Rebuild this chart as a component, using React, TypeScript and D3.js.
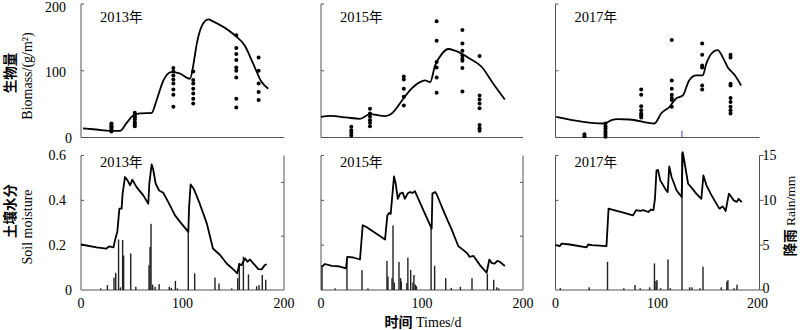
import React from 'react';
import * as d3 from 'd3';

type P = [number, number];

const yearLabels = ['2013年', '2015年', '2017年'];
const xTicks = [0, 100, 200];
const biomassTicks = [0, 100, 200];
const soilTicks = [0, 0.2, 0.4, 0.6];
const rainTicksRight = [0, 5, 10, 15];
const rainTicksInner = [10, 20];
const rainMax = [25, 25, 15];

// ---------- 2013 ----------
const biomassLine2013: P[] = [
  [2, 13.7], [15, 12], [28.6, 10], [38.4, 10], [45, 22], [51.5, 33], [58, 36], [69.6, 37], [74.5, 56],
  [81, 85], [89, 98], [97, 96], [107.4, 88], [110.6, 108], [114, 140], [119, 167], [125.4, 177],
  [130, 174], [150, 155], [161.6, 137], [169.8, 110], [178, 83], [184.5, 73],
];
const biomassDots2013: [number, number[]][] = [
  [30, [9, 11, 13, 15, 17, 19, 21]],
  [53, [17, 20, 23, 27, 30, 33, 37]],
  [91, [104, 99, 93, 87, 81, 72, 64, 46]],
  [110.6, [99, 86, 81, 73, 66, 58, 51]],
  [153, [153, 134, 125, 116, 105, 100, 90, 58, 45]],
  [175, [120, 100, 81, 68, 56]],
];
const soil2013: P[] = [
  [0, 0.203], [15.4, 0.19], [25, 0.185], [28, 0.195], [32, 0.19], [33.5, 0.222], [35.8, 0.26], [37.8, 0.363],
  [40, 0.363], [41, 0.43], [43.3, 0.504], [45.7, 0.49], [48.3, 0.467], [50.6, 0.492], [54.8, 0.459],
  [61.4, 0.422], [66.3, 0.385], [67.3, 0.474], [69.6, 0.56], [71, 0.54], [73.6, 0.474], [77, 0.444],
  [81, 0.434], [86, 0.392], [92.6, 0.333], [99, 0.296], [105.7, 0.259], [106.5, 0.37], [108, 0.471],
  [111, 0.452], [117, 0.385], [124, 0.296], [130, 0.185], [137, 0.156], [143.5, 0.118], [150, 0.092],
  [154, 0.074], [156, 0.116], [158, 0.11], [161.6, 0.141], [164, 0.126], [166.5, 0.136], [169.5, 0.12],
  [174.7, 0.093], [178, 0.092], [181, 0.111], [183, 0.115],
];
const rain2013: P[] = [
  [19.4, 0.3], [26, 0.9], [32.5, 2.3], [34.2, 3.2], [37, 9.4], [38.8, 0.5], [41, 9.3], [42, 6.4], [49, 6.8],
  [54, 0.6], [67, 4.6], [68, 8.0], [69, 12.3], [70.6, 1.0], [73, 0.6], [77, 1.1], [87, 0.6], [89, 0.4],
  [93, 1.7], [95, 0.3], [105.7, 11], [112, 3.1], [132, 2.3], [136, 1.2], [148.5, 0.3], [154.4, 2.2],
  [156, 5], [160, 6.2], [165, 2.9], [173, 0.7], [175.4, 0.9], [178.6, 2.8], [182, 1.9],
];

// ---------- 2015 ----------
const biomassLine2015: P[] = [
  [0, 31], [9, 32.4], [25, 30], [38.6, 28], [48.5, 35], [63.4, 32], [70, 36], [81.5, 58], [88, 70.6],
  [98, 83], [103, 85.5], [108, 83], [113, 108], [119.5, 125], [126, 132.6], [132.7, 130], [147.5, 118],
  [159, 106], [170.6, 80.6], [182, 57],
];
const biomassDots2015: [number, number[]][] = [
  [30, [16, 11, 7, 3]],
  [48.5, [43, 36, 31, 26, 22, 17]],
  [82, [91.4, 87, 73, 61, 48]],
  [114.5, [174, 145, 113, 105, 90, 67]],
  [140, [161, 141, 130, 123, 118, 115, 104, 69]],
  [157, [122, 63, 57, 51, 44, 18.6, 14, 10]],
];
const soil2015: P[] = [
  [1, 0.104], [4, 0.116], [10.6, 0.108], [17, 0.106], [24.7, 0.096], [26, 0.148], [32, 0.145],
  [38.6, 0.136], [41.3, 0.289], [45, 0.281], [63.4, 0.225], [65.7, 0.333], [67.6, 0.344], [69, 0.339],
  [72.3, 0.507], [74, 0.474], [76, 0.407], [78.3, 0.43], [81, 0.434], [83, 0.407], [85.8, 0.43],
  [88, 0.437], [90.7, 0.433], [93, 0.441], [96.4, 0.407], [101.3, 0.356], [109.6, 0.274], [110.3, 0.43],
  [113, 0.437], [114.5, 0.427], [121, 0.356], [126, 0.304], [129, 0.274], [136, 0.195], [141, 0.178],
  [145, 0.163], [147, 0.148], [151, 0.152], [157.4, 0.111], [164, 0.077], [166.7, 0.136], [169, 0.12],
  [172, 0.118], [174.5, 0.13], [177, 0.126], [182, 0.107],
];
const rain2015: P[] = [
  [1, 4.6], [14, 0.3], [25.7, 6], [40.6, 3.7], [46.5, 0.3], [65.3, 5.4], [66.3, 2.5], [70.3, 2.2],
  [71.3, 12], [72.6, 1.4], [77.2, 5.2], [78.8, 2.2], [79.5, 1.6], [85, 1.3], [86, 6.0], [88.8, 3.7],
  [91, 1.4], [92, 2.8], [93.5, 1], [94.5, 0.7], [109, 11.5], [112.5, 4.5], [123.5, 2.2], [129, 0.4],
  [138, 0.6], [149.5, 2.2], [164.7, 3], [171, 1.9], [174, 0.5], [176, 0.3],
];

// ---------- 2017 ----------
const biomassLine2017: P[] = [
  [0.7, 31], [46.4, 21], [50.5, 22.5], [55, 26], [61, 27.5], [72.5, 27], [97, 21], [103.6, 36],
  [111.8, 46], [118, 58], [124.8, 63], [131, 85.5], [138, 93], [144.4, 93], [147.7, 110], [154, 127.6],
  [159, 131], [164, 120], [169, 105], [175.5, 94], [182, 78],
];
const biomassDots2017: [number, number[]][] = [
  [28.4, [5, 2]],
  [49, [21, 17, 14, 10, 7, 4, 1]],
  [84, [72, 64, 47, 41, 36, 33.5, 30]],
  [114, [146, 85.5, 73, 64, 59, 56, 46]],
  [143.8, [141, 124, 108, 105, 78, 72]],
  [171.6, [124, 120, 80.6, 78, 59, 53, 46, 41, 36]],
];
const soil2017: P[] = [
  [0, 0.2], [4.4, 0.196], [6, 0.207], [14, 0.203], [30.5, 0.19], [32, 0.203], [35.6, 0.2], [50, 0.196],
  [52, 0.363], [60, 0.353], [66.5, 0.345], [76, 0.333], [79, 0.356], [83, 0.353], [86, 0.356],
  [91, 0.348], [93.5, 0.359], [96, 0.356], [97.5, 0.407], [99, 0.533], [100.5, 0.536], [102.7, 0.489],
  [108.6, 0.444], [110, 0.437], [111.5, 0.551], [113.8, 0.504], [118.8, 0.444], [123.7, 0.415],
  [124.7, 0.615], [126.5, 0.57], [130, 0.474], [133, 0.459], [138, 0.43], [143, 0.407], [145, 0.511],
  [148, 0.467], [153, 0.422], [160.6, 0.363], [164, 0.373], [166.8, 0.352], [170, 0.43], [174.6, 0.4],
  [177.8, 0.393], [179.5, 0.407], [182.6, 0.392],
];
const rain2017: P[] = [
  [4.7, 0.2], [33, 0.3], [51, 3.15], [67, 0.2], [78, 0.55], [83, 0.2], [92.3, 0.3], [97, 2.96],
  [98.5, 1.0], [99.5, 1.1], [103, 0.2], [110.3, 3.4], [112.6, 0.2], [124, 15.3], [131.5, 0.3],
  [133.8, 0.3], [141.6, 0.2], [144.6, 2.6], [162.5, 0.3], [168, 0.93], [169, 1.1], [175, 0.2], [178, 0.6],
];

const biomassLines = [biomassLine2013, biomassLine2015, biomassLine2017];
const biomassDots = [biomassDots2013, biomassDots2015, biomassDots2017];
const soilLines = [soil2013, soil2015, soil2017];
const rains = [rain2013, rain2015, rain2017];

const panelX: [number, number][] = [[81, 284], [321, 523], [555.5, 759.5]];
const TOP: [number, number] = [137.5, 4];
const BOT: [number, number] = [290, 155.5];

const serif = '"Liberation Serif", "Times New Roman", serif';
const cjk = '"Noto Sans CJK SC", sans-serif';
const axisColor = '#555';
const FS = 14;

export default function App() {
  const yBio = d3.scaleLinear().domain([0, 200]).range(TOP);
  const ySoil = d3.scaleLinear().domain([0, 0.6]).range(BOT);

  return (
    <svg width={800} height={330} style={{ position: 'absolute', left: 0, top: 0, background: '#fff' }}>
      {panelX.map((rng, i) => {
        const x = d3.scaleLinear().domain([0, 200]).range(rng);
        const yRain = d3.scaleLinear().domain([0, rainMax[i]]).range(BOT);
        const bioLine = d3.line<P>().x(d => x(d[0])).y(d => yBio(d[1])).curve(d3.curveMonotoneX);
        const soilLine = d3.line<P>().x(d => x(d[0])).y(d => ySoil(d[1]));
        return (
          <g key={i}>
            {/* ---- top panel ---- */}
            <line x1={rng[0]} x2={rng[0]} y1={TOP[1]} y2={TOP[0]} stroke={axisColor} />
            <line x1={rng[0]} x2={rng[1]} y1={TOP[0]} y2={TOP[0]} stroke={axisColor} />
            {biomassTicks.slice(1).map(t => (
              <line key={t} x1={rng[0]} x2={rng[0] + 3} y1={yBio(t)} y2={yBio(t)} stroke={axisColor} />
            ))}
            {i === 0 && biomassTicks.map(t => (
              <text key={t} x={t === 0 ? 72 : 66} y={t === 200 ? yBio(t) + 3 : yBio(t) + 1} dy="0.35em" textAnchor="end"
                fontFamily={serif} fontSize={FS}>{t}</text>
            ))}
            {i === 2 && (
              <line x1={x(124)} x2={x(124)} y1={yBio(10)} y2={TOP[0]} stroke="#3a3ac8" strokeWidth={1} />
            )}
            <path d={bioLine(biomassLines[i]) || ''} fill="none" stroke="#000" strokeWidth={1.8} />
            {biomassDots[i].map(([day, vals], j) => vals.map((v, k) => (
              <circle key={`${j}-${k}`} cx={x(day)} cy={yBio(v)} r={2} fill="#000" />
            )))}
            <text x={rng[0] + 19} y={17} dy="0.35em" fontFamily={serif} fontSize={14.5}>
              {yearLabels[i].slice(0, 4)}<tspan fontFamily={cjk} fontSize={13.5}>{yearLabels[i].slice(4)}</tspan>
            </text>

            {/* ---- bottom panel ---- */}
            <line x1={rng[0]} x2={rng[0]} y1={BOT[1]} y2={BOT[0]} stroke={axisColor} />
            <line x1={rng[1]} x2={rng[1]} y1={BOT[1]} y2={BOT[0]} stroke={axisColor} />
            <line x1={rng[0]} x2={rng[1]} y1={BOT[0]} y2={BOT[0]} stroke={axisColor} />
            <line x1={rng[0]} x2={rng[0] + 3} y1={BOT[1]} y2={BOT[1]} stroke={axisColor} />
            {soilTicks.slice(1, 3).map(t => (
              <line key={t} x1={rng[0]} x2={rng[0] + 3} y1={ySoil(t)} y2={ySoil(t)} stroke={axisColor} />
            ))}
            {i < 2 && rainTicksInner.map(t => (
              <line key={t} x1={rng[1] - 3} x2={rng[1]} y1={yRain(t)} y2={yRain(t)} stroke={axisColor} />
            ))}
            {i === 2 && rainTicksRight.map(t => (
              <g key={t}>
                <line x1={rng[1]} x2={rng[1] + 4} y1={yRain(t)} y2={yRain(t)} stroke={axisColor} />
                <text x={rng[1] + 3} y={yRain(t) - (t === 0 ? 2 : 0)} dy="0.35em" fontFamily={serif} fontSize={FS}>{t}</text>
              </g>
            ))}
            {i === 0 && soilTicks.map(t => (
              <text key={t} x={t === 0 ? 72 : 66} y={ySoil(t)} dy="0.35em" textAnchor="end"
                fontFamily={serif} fontSize={FS}>{t === 0 ? '0' : t.toFixed(1)}</text>
            ))}
            {xTicks.map(t => (
              <text key={t} x={i === 2 && t === 200 ? x(t) - 2 : x(t)} y={303} dy="0.35em" textAnchor="middle" fontFamily={serif} fontSize={FS}>{t}</text>
            ))}
            {rains[i].map(([day, r], j) => (
              <rect key={j} x={x(day) - 0.7} width={1.4} y={yRain(r)} height={BOT[0] - yRain(r)} fill="#222" />
            ))}
            <path d={soilLine(soilLines[i]) || ''} fill="none" stroke="#000" strokeWidth={1.8} strokeLinejoin="round" />
            <text x={rng[0] + 19} y={162} dy="0.35em" fontFamily={serif} fontSize={14.5}>
              {yearLabels[i].slice(0, 4)}<tspan fontFamily={cjk} fontSize={13.5}>{yearLabels[i].slice(4)}</tspan>
            </text>
          </g>
        );
      })}

      {/* axis titles */}
      <text transform="translate(10,73) rotate(-90)" textAnchor="middle" dy="0.35em" fontFamily={cjk}
        fontWeight="bold" fontSize={13.5}>生物量</text>
      <text transform="translate(27,76) rotate(-90)" textAnchor="middle" dy="0.35em" fontFamily={serif}
        fontSize={14}>Biomass/(g/m²)</text>
      <text transform="translate(10,211) rotate(-90)" textAnchor="middle" dy="0.35em" fontFamily={cjk}
        fontWeight="bold" fontSize={13.5}>土壤水分</text>
      <text transform="translate(27,227) rotate(-90)" textAnchor="middle" dy="0.35em" fontFamily={serif}
        fontSize={14}>Soil moisture</text>
      <text transform="translate(790,216) rotate(-90)" textAnchor="middle" dy="0.35em" fontSize={13.5}>
        <tspan fontFamily={cjk} fontWeight="bold">降雨</tspan>
        <tspan fontFamily={serif}> Rain/mm</tspan>
      </text>
      <text x={423} y={322} textAnchor="middle" dy="0.35em" fontSize={14}>
        <tspan fontFamily={cjk} fontWeight="bold">时间</tspan>
        <tspan fontFamily={serif}> Times/d</tspan>
      </text>
    </svg>
  );
}
